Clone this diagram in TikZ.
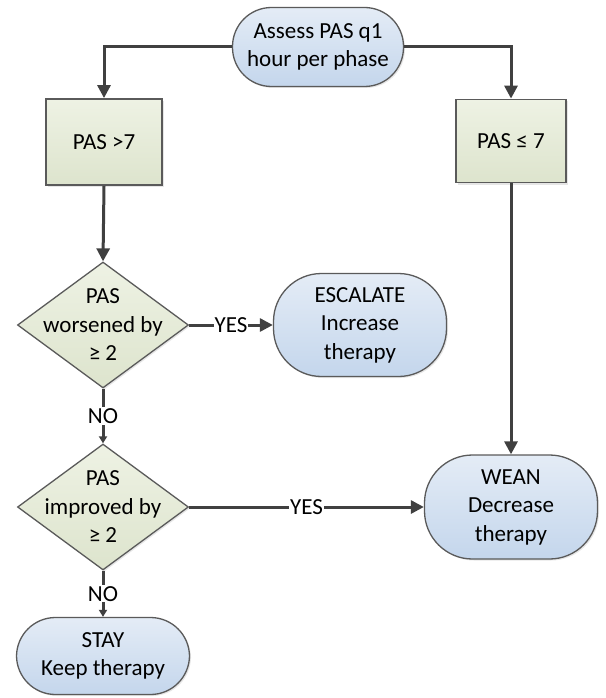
\documentclass[tikz,border=0pt]{standalone}
\usepackage{fontspec}
\setmainfont{Carlito}
\usetikzlibrary{shapes.geometric,arrows.meta,shadows}
\definecolor{termtop}{RGB}{228,236,246}
\definecolor{termbot}{RGB}{196,214,236}
\definecolor{boxtop}{RGB}{238,242,228}
\definecolor{boxbot}{RGB}{221,228,205}
\definecolor{edgegray}{RGB}{90,90,90}
\definecolor{linegray}{RGB}{64,64,64}
\tikzset{
  terminal/.style={rectangle, rounded corners=39pt, draw=edgegray, line width=1.3pt,
    top color=termtop, bottom color=termbot, align=center, inner sep=0pt,
    drop shadow={opacity=0.2, shadow xshift=1.5pt, shadow yshift=-1.5pt}},
  condbox/.style={rectangle, draw=edgegray, line width=1.8pt,
    top color=boxtop, bottom color=boxbot, align=center, inner sep=0pt,
    drop shadow={opacity=0.2, shadow xshift=2pt, shadow yshift=-2pt}},
  decide/.style={diamond, draw=edgegray, line width=1.3pt, inner sep=0pt,
    top color=boxtop, bottom color=boxbot,
    minimum width=171pt, minimum height=126pt,
    drop shadow={opacity=0.2, shadow xshift=1.5pt, shadow yshift=-1.5pt}},
  flow/.style={draw=linegray, line width=3pt, -{Triangle[length=13pt,width=13pt]}},
  shortflow/.style={draw=linegray, line width=3pt, -{Triangle[length=7pt,width=8pt]}},
  answer/.style={fill=white, inner sep=1pt}
}
\begin{document}
\begin{tikzpicture}[x=1pt,y=-1pt,font=\fontsize{23}{28.5}\selectfont]
  \useasboundingbox (0,0) rectangle (605,698);
  \node[terminal, minimum width=171pt, minimum height=79pt] (assess) at (318,47) {Assess PAS q1\\hour per phase};
  \node[condbox, minimum width=116pt, minimum height=86pt] (high) at (104,142) {PAS >7};
  \node[condbox, minimum width=110pt, minimum height=83pt] (low) at (511,141) {PAS ≤ 7};
  \node[decide, label={[align=center]center:PAS\\worsened by\\≥ 2}] (worse) at (103,325) {};
  \node[terminal, rounded corners=48pt, minimum width=173pt, minimum height=103pt] (escalate) at (360,325) {ESCALATE\\Increase\\therapy};
  \node[decide, label={[align=center]center:PAS\\improved by\\≥ 2}] (improve) at (103,507) {};
  \node[terminal, rounded corners=48pt, minimum width=173pt, minimum height=104pt] (wean) at (511,507) {WEAN\\Decrease\\therapy};
  \node[terminal, minimum width=173pt, minimum height=77pt] (stay) at (103,656) {STAY\\Keep therapy};
  \draw[flow] (assess.west) -| (high.north);
  \draw[flow] (assess.east) -| (low.north);
  \draw[flow] (high.south) -- (worse.north);
  \draw[flow] (low.south) -- (wean.north);
  \draw[flow] (worse.east) -- node[answer] (yes1) {YES} (escalate.west);
  \draw[flow] (improve.east) -- node[answer] (yes2) {YES} (wean.west);
  \draw[shortflow] (worse.south) -- node[answer] (no1) {NO} (improve.north);
  \draw[shortflow] (improve.south) -- node[answer] (no2) {NO} (stay.north);
\end{tikzpicture}
\end{document}
